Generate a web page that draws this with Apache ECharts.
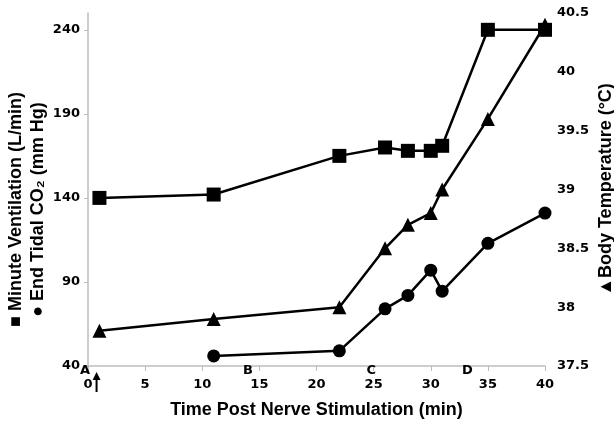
<!DOCTYPE html>
<html>
<head>
<meta charset="utf-8">
<script src="https://cdn.jsdelivr.net/npm/echarts@6/dist/echarts.min.js"></script>
<style>
  html, body { margin: 0; padding: 0; background: #fff; }
  #chart { width: 614px; height: 424px; }
</style>
</head>
<body>
<div id="chart"></div>
<script>
// time points (min)
const ventTime = [1, 11, 22, 26, 28, 30, 31, 35, 40];
const ventValues = [140, 142, 165, 170, 168, 168, 171, 240, 240];

const co2Time = [11, 22, 26, 28, 30, 31, 35, 40];
const co2Values = [46, 49, 74, 82, 97, 84.5, 113, 131];

const tempTime = [1, 11, 22, 26, 28, 30, 31, 35, 40];
const tempValues = [37.8, 37.9, 38.0, 38.5, 38.7, 38.8, 39.0, 39.6, 40.4];

// event letters along the time axis
const eventLabels = ['A', 'B', 'C', 'D'];
const eventTimes = [0, 14, 24.8, 33.2];
const stimTime = 0.75;

const chart = echarts.init(document.getElementById('chart'));

const font = 'DejaVu Sans';
const titleFont = 'Liberation Sans';
const axisGrey = '#bdbdbd';

function pairs(xs, ys) {
  return xs.map((x, i) => [x, ys[i]]);
}

const lineStyle = { color: '#000', width: 2.5 };

const option = {
  animation: false,
  grid: { left: 88, right: 69, top: 13, bottom: 58, containLabel: false, outerBoundsMode: 'none' },
  xAxis: {
    type: 'value',
    min: 0,
    max: 40,
    interval: 5,
    name: 'Time Post Nerve Stimulation (min)',
    nameLocation: 'middle',
    nameGap: 35,
    nameMoveOverlap: false,
    nameTextStyle: { fontFamily: titleFont, fontWeight: 'bold', fontSize: 18, color: '#000' },
    axisLine: { lineStyle: { color: axisGrey, width: 1.5 } },
    axisTick: { show: true, length: 5, lineStyle: { color: axisGrey } },
    splitLine: { show: false },
    axisLabel: { fontFamily: font, fontWeight: 'bold', fontSize: 13, color: '#000', margin: 12 }
  },
  yAxis: [
    {
      type: 'value',
      min: 40,
      max: 250,
      interval: 50,
      position: 'left',
      name: '\u25A0 Minute Ventilation (L/min)\n\u25CF End Tidal CO\u2082 (mm Hg)',
      nameLocation: 'middle',
      nameGap: 39,
      nameMoveOverlap: false,
      nameTextStyle: {
        fontFamily: titleFont, fontWeight: 'bold', fontSize: 18, lineHeight: 22, color: '#000',
        padding: [0, 40, 0, 0]
      },
      axisLine: { show: true, lineStyle: { color: axisGrey, width: 1.5 } },
      axisTick: { show: true, length: 4, lineStyle: { color: axisGrey } },
      splitLine: { show: false },
      axisLabel: { fontFamily: font, fontWeight: 'bold', fontSize: 13, color: '#000', margin: 8, showMaxLabel: false }
    },
    {
      type: 'value',
      min: 37.5,
      max: 40.5,
      interval: 0.5,
      position: 'right',
      name: '\u25B2Body Temperature (\u00B0C)',
      nameLocation: 'middle',
      nameRotate: 90,
      nameGap: 52,
      nameMoveOverlap: false,
      nameTextStyle: { fontFamily: titleFont, fontWeight: 'bold', fontSize: 18, color: '#000' },
      axisLine: { show: false },
      axisTick: { show: false },
      splitLine: { show: false },
      axisLabel: { fontFamily: font, fontWeight: 'bold', fontSize: 13, color: '#000', margin: 12 }
    }
  ],
  series: [
    {
      name: 'Minute Ventilation',
      type: 'line',
      yAxisIndex: 0,
      data: pairs(ventTime, ventValues),
      symbol: 'rect',
      symbolSize: 14,
      itemStyle: { color: '#000' },
      lineStyle: lineStyle,
      z: 3
    },
    {
      name: 'End Tidal CO2',
      type: 'line',
      yAxisIndex: 0,
      data: pairs(co2Time, co2Values),
      symbol: 'circle',
      symbolSize: 13,
      itemStyle: { color: '#000' },
      lineStyle: lineStyle,
      z: 3,
      markPoint: {
        silent: true,
        data: eventLabels.map((t, i) => ({
          coord: [eventTimes[i], 40],
          symbolSize: 0,
          label: {
            show: true,
            formatter: t,
            position: 'inside',
            offset: [i === 0 ? -3 : 0, 5],
            fontFamily: font,
            fontWeight: 'bold',
            fontSize: 13,
            color: '#000'
          }
        })).concat([{
          coord: [stimTime, 40],
          symbol: 'path://M4,0 L8,8 L5,8 L5,20 L3,20 L3,8 L0,8 Z',
          symbolSize: [8, 20],
          symbolOffset: [0, 16],
          itemStyle: { color: '#000' },
          label: { show: false }
        }])
      }
    },
    {
      name: 'Body Temperature',
      type: 'line',
      yAxisIndex: 1,
      data: pairs(tempTime, tempValues),
      symbol: 'triangle',
      symbolSize: 14,
      itemStyle: { color: '#000' },
      lineStyle: lineStyle,
      z: 3
    }
  ]
};

chart.setOption(option);
</script>
</body>
</html>
